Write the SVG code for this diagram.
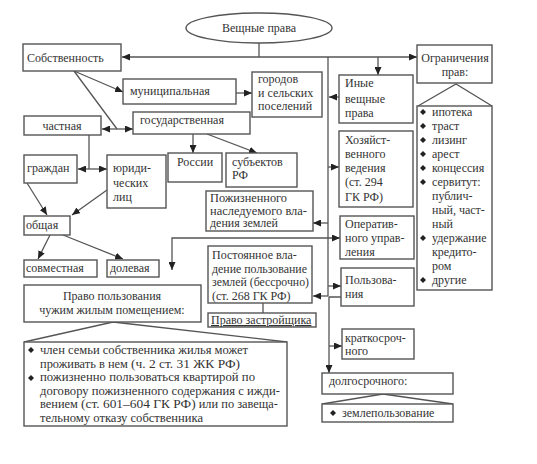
<svg xmlns="http://www.w3.org/2000/svg" width="537" height="464" viewBox="0 0 537 464">
<defs>
<marker id="a" viewBox="0 0 8 7" refX="8" refY="3.5" markerWidth="8" markerHeight="7" markerUnits="userSpaceOnUse" orient="auto-start-reverse">
<path d="M0,0 L8,3.5 L0,7 z" fill="#222"/>
</marker>
<style>
.b{fill:#fff;stroke:#555;stroke-width:1.4}
.t{font-size:12px;fill:#333}
.c{text-anchor:middle}
.l{fill:none;stroke:#555;stroke-width:1.3}
.m{marker-end:url(#a)}
.d{marker-start:url(#a);marker-end:url(#a)}
.bu{fill:#222}
</style>
</defs>
<rect width="537" height="464" fill="#fff"/>

<g id="connectors">
<path class="l" d="M259 43 V57"/>
<path class="l m" d="M259 57 H122"/>
<path class="l m" d="M259 57 H417"/>
<path class="l m" d="M378 57 V75"/>
<path class="l" d="M328 57 V296"/>
<path class="l m" d="M74 71 L123 92"/>
<path class="l" d="M74 71 L117 129"/>
<path class="l d" d="M102 129 H133"/>
<path class="l" d="M89 135 V169"/>
<path class="l d" d="M78 169 H107"/>
<path class="l m" d="M27 183 L47 215"/>
<path class="l m" d="M107 190 L72 215"/>
<path class="l m" d="M50 235 L38 259"/>
<path class="l m" d="M63 235 L123 259"/>
<path class="l m" d="M236 93 H252"/>
<path class="l m" d="M193 134 V153"/>
<path class="l m" d="M207 134 L257 153"/>
<path class="l m" d="M339 97 H329"/>
<path class="l m" d="M328 167 H339"/>
<path class="l m" d="M328 223 H313"/>
<path class="l d" d="M172 270 V238 H340"/>
<path class="l m" d="M328 286 H341"/>
<path class="l m" d="M328 296 H313"/>
<path class="l m" d="M341 297 H329 V373"/>
<path class="l m" d="M329 346 H342"/>
<path class="l" d="M263 303 V313"/>
<path class="l" d="M418 106 L456 84 L492 106"/>
<path class="l" d="M24 342 L113 322 L287 342"/>
<path class="l" d="M322 404 L383 394 L453 404"/>
</g>

<g font-family="'Liberation Serif', 'Times New Roman', 'DejaVu Serif', serif">
<g id="root">
<ellipse class="b" cx="259" cy="28" rx="73" ry="15"/>
<text class="t c" x="259" y="32">Вещные права</text>
</g>

<g id="sobstvennost">
<rect class="b" x="23" y="44" width="98" height="27"/>
<text class="t" x="27" y="62">Собственность</text>
</g>

<g id="municipal">
<rect class="b" x="123" y="79" width="113" height="25"/>
<text class="t" x="130" y="95">муниципальная</text>
</g>

<g id="gorodov">
<rect class="b" x="252" y="72" width="70" height="45"/>
<text class="t" x="258" y="83">городов</text>
<text class="t" x="258" y="96.5">и сельских</text>
<text class="t" x="258" y="110">поселений</text>
</g>

<g id="chastnaya">
<rect class="b" x="24" y="116" width="77" height="19"/>
<text class="t c" x="62" y="130">частная</text>
</g>

<g id="gos">
<rect class="b" x="133" y="112" width="117" height="22"/>
<text class="t" x="140" y="124">государственная</text>
</g>

<g id="rossii">
<rect class="b" x="168" y="153" width="54" height="29"/>
<text class="t c" x="195" y="166">России</text>
</g>

<g id="subektov">
<rect class="b" x="226" y="153" width="71" height="34"/>
<text class="t" x="232" y="166">субъектов</text>
<text class="t" x="232" y="179">РФ</text>
</g>

<g id="grazhdan">
<rect class="b" x="24" y="155" width="53" height="28"/>
<text class="t" x="27" y="172">граждан</text>
</g>

<g id="yurid">
<rect class="b" x="107" y="155" width="59" height="53"/>
<text class="t" x="113" y="172">юриди-</text>
<text class="t" x="113" y="187">ческих</text>
<text class="t" x="113" y="201">лиц</text>
</g>

<g id="obshaya">
<rect class="b" x="24" y="216" width="46" height="19"/>
<text class="t" x="26" y="229">общая</text>
</g>

<g id="sovmestnaya">
<rect class="b" x="24" y="260" width="73" height="17"/>
<text class="t" x="26" y="272">совместная</text>
</g>

<g id="dolevaya">
<rect class="b" x="107" y="260" width="52" height="17"/>
<text class="t" x="110" y="272">долевая</text>
</g>

<g id="pozhiz">
<rect class="b" x="206" y="191" width="107" height="40"/>
<text class="t" x="210" y="202" font-size="10" textLength="77" lengthAdjust="spacingAndGlyphs">Пожизненного</text>
<text class="t" x="210" y="214.5" font-size="10" textLength="97" lengthAdjust="spacingAndGlyphs">наследуемого вла-</text>
<text class="t" x="210" y="227" font-size="10" textLength="68" lengthAdjust="spacingAndGlyphs">дения землей</text>
</g>

<g id="postoyannoe">
<rect class="b" x="208" y="246" width="104" height="57"/>
<text class="t" x="212" y="259">Постоянное вла-</text>
<text class="t" x="212" y="272.5" textLength="95" lengthAdjust="spacingAndGlyphs">дение пользование</text>
<text class="t" x="212" y="286" textLength="97" lengthAdjust="spacingAndGlyphs">землей (бессрочно)</text>
<text class="t" x="212" y="299.5">(ст. 268 ГК РФ)</text>
</g>

<g id="zastroy">
<rect class="b" x="208" y="313" width="108" height="14"/>
<text class="t" x="211" y="324" text-decoration="underline">Право застройщика</text>
</g>

<g id="pravo-polz">
<rect class="b" x="24" y="285" width="177" height="37"/>
<text class="t c" x="112" y="300">Право пользования</text>
<text class="t c" x="112" y="314">чужим  жилым помещением:</text>
</g>

<g id="pravo-list">
<rect class="b" x="24" y="342" width="263" height="84"/>
<path class="bu" d="M31 347 L34 350 L31 353 L28 350 z"/>
<text class="t" x="40" y="354" textLength="208" lengthAdjust="spacingAndGlyphs">член семьи собственника жилья может</text>
<text class="t" x="40" y="367.5" textLength="200" lengthAdjust="spacingAndGlyphs">проживать в нем <tspan font-size="13">(ч. 2 ст. 31 ЖК РФ)</tspan></text>
<path class="bu" d="M31 375 L34 378 L31 381 L28 378 z"/>
<text class="t" x="40" y="381" textLength="215" lengthAdjust="spacingAndGlyphs">пожизненно пользоваться квартирой по</text>
<text class="t" x="40" y="394.5" textLength="240" lengthAdjust="spacingAndGlyphs">договору пожизненного содержания с ижди-</text>
<text class="t" x="40" y="408" textLength="238" lengthAdjust="spacingAndGlyphs">вением <tspan font-size="13">(ст. 601–604 ГК РФ)</tspan> или по завеща-</text>
<text class="t" x="40" y="421.5" textLength="163" lengthAdjust="spacingAndGlyphs">тельному отказу собственника</text>
</g>

<g id="inye">
<rect class="b" x="339" y="75" width="74" height="48"/>
<text class="t" x="345" y="87">Иные</text>
<text class="t" x="345" y="103">вещные</text>
<text class="t" x="345" y="117">права</text>
</g>

<g id="hozyaystv">
<rect class="b" x="339" y="131" width="74" height="76"/>
<text class="t" x="345" y="144">Хозяйст-</text>
<text class="t" x="345" y="158">венного</text>
<text class="t" x="345" y="172">ведения</text>
<text class="t" x="345" y="186">(ст. 294</text>
<text class="t" x="345" y="201">ГК РФ)</text>
</g>

<g id="operativ">
<rect class="b" x="340" y="216" width="74" height="43"/>
<text class="t" x="345" y="228">Оператив-</text>
<text class="t" x="345" y="242">ного управ-</text>
<text class="t" x="345" y="256">ления</text>
</g>

<g id="polzovaniya">
<rect class="b" x="341" y="268" width="73" height="38"/>
<text class="t" x="345" y="284">Пользова-</text>
<text class="t" x="345" y="298">ния</text>
</g>

<g id="kratko">
<rect class="b" x="342" y="329" width="72" height="30"/>
<text class="t" x="345" y="342">краткосроч-</text>
<text class="t" x="345" y="355">ного</text>
</g>

<g id="dolgo">
<rect class="b" x="322" y="373" width="131" height="21"/>
<text class="t" x="329" y="385">долгосрочного:</text>
</g>

<g id="dolgo-list">
<rect class="b" x="322" y="404" width="131" height="18"/>
<path class="bu" d="M333 410 L336 413 L333 416 L330 413 z"/>
<text class="t" x="342" y="417">землепользование</text>
</g>

<g id="ogranich">
<rect class="b" x="417" y="45" width="75" height="38"/>
<text class="t c" x="455" y="62">Ограничения</text>
<text class="t c" x="455" y="76">прав:</text>
</g>

<g id="ogranich-list">
<rect class="b" x="417" y="106" width="75" height="184"/>
<g class="bu">
<path d="M423 109 L426 112 L423 115 L420 112 z"/>
<path d="M423 123 L426 126 L423 129 L420 126 z"/>
<path d="M423 137 L426 140 L423 143 L420 140 z"/>
<path d="M423 151 L426 154 L423 157 L420 154 z"/>
<path d="M423 165 L426 168 L423 171 L420 168 z"/>
<path d="M423 179 L426 182 L423 185 L420 182 z"/>
<path d="M423 235 L426 238 L423 241 L420 238 z"/>
<path d="M423 277 L426 280 L423 283 L420 280 z"/>
</g>
<text class="t" x="432" y="116">ипотека</text>
<text class="t" x="432" y="130">траст</text>
<text class="t" x="432" y="144">лизинг</text>
<text class="t" x="432" y="158">арест</text>
<text class="t" x="432" y="172">концессия</text>
<text class="t" x="432" y="186">сервитут:</text>
<text class="t" x="432" y="200">публич-</text>
<text class="t" x="432" y="214">ный, част-</text>
<text class="t" x="432" y="228">ный</text>
<text class="t" x="432" y="242">удержание</text>
<text class="t" x="432" y="256">кредито-</text>
<text class="t" x="432" y="270">ром</text>
<text class="t" x="432" y="284">другие</text>
</g>
</g>
</svg>
